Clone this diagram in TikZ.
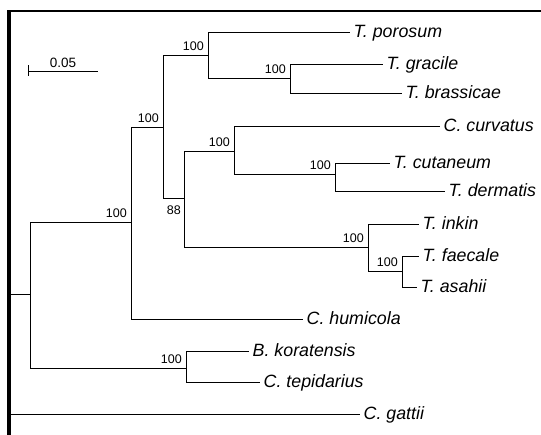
\documentclass[tikz,border=0pt]{standalone}
\usepackage{fontspec}
\setmainfont{Liberation Sans}
\usepackage{tikz}
\usetikzlibrary{calc}

\begin{document}
\begin{tikzpicture}[x=1pt,y=-1pt,
    branch/.style={line width=0.8pt},
    taxon/.style={anchor=west,font=\fontsize{17.8}{20}\selectfont\itshape,
                  inner xsep=3.5pt,inner ysep=0pt,text height=12pt,text depth=0pt},
    boot/.style={anchor=base east,font=\fontsize{12.5}{14}\selectfont,inner sep=0pt}]
  \useasboundingbox (0,0) rectangle (541,435);
  % ---- frame ----
  \draw[line width=2.5pt] (8,11) -- (541,11);
  \draw[line width=3.8pt] (9,435) -- (9,10);
  % ---- scale bar ----
  \coordinate (sbL) at (28,71);
  \coordinate (sbR) at (98,71);
  \draw[branch] (sbL) -- (sbR);
  \draw[branch] ($(sbL)+(0,-5.5)$) -- ($(sbL)+(0,5.5)$);
  \node[font=\fontsize{13.5}{15}\selectfont,anchor=base,inner sep=0pt] (sblab) at (63,68) {0.05};
  % ---- internal nodes ----
  \coordinate (nR) at (10,294);
  \coordinate (nA) at (30,294);
  \coordinate (nB) at (131,222);
  \coordinate (nC) at (163,127);
  \coordinate (nE) at (208,55);
  \coordinate (nF) at (290,78);
  \coordinate (nD) at (184,198);
  \coordinate (nG) at (234,151);
  \coordinate (nH) at (335,174);
  \coordinate (nI) at (368,247);
  \coordinate (nJ) at (402,271);
  \coordinate (nK) at (186,368);
  % ---- taxa ----
  \foreach \n/\x/\y/\t in {porosum/350/32/T. porosum, gracile/383/64/T. gracile,
      brassicae/402/93/T. brassicae, curvatus/440/126/C. curvatus,
      cutaneum/390/163/T. cutaneum, dermatis/445/191/T. dermatis,
      inkin/419/224/T. inkin, faecale/419/256/T. faecale, asahii/417/287/T. asahii,
      humicola/303/319/C. humicola, koratensis/249/351/B. koratensis,
      tepidarius/260/382/C. tepidarius, gattii/360/414/C. gattii} {
    \node[taxon] (\n) at (\x,\y) {\t};
  }
  % ---- branches ----
  \foreach \a/\b in {nR/nA, nR/gattii, nA/nB, nA/nK, nB/nC, nB/humicola,
      nC/nE, nC/nD, nE/porosum, nE/nF, nF/gracile, nF/brassicae,
      nD/nG, nD/nI, nG/curvatus, nG/nH, nH/cutaneum, nH/dermatis,
      nI/inkin, nI/nJ, nJ/faecale, nJ/asahii, nK/koratensis, nK/tepidarius} {
    \draw[branch] (\a) |- (\b);
  }
  % ---- bootstrap values ----
  \foreach \p in {B,C,E,F,G,H,I,J,K} {
    \node[boot] (bs\p) at ($(n\p)+(-4,-4)$) {100};
  }
  \node[boot,anchor=north east] (bsD) at ($(nD)+(-3,7.5)$) {88};
\end{tikzpicture}
\end{document}
